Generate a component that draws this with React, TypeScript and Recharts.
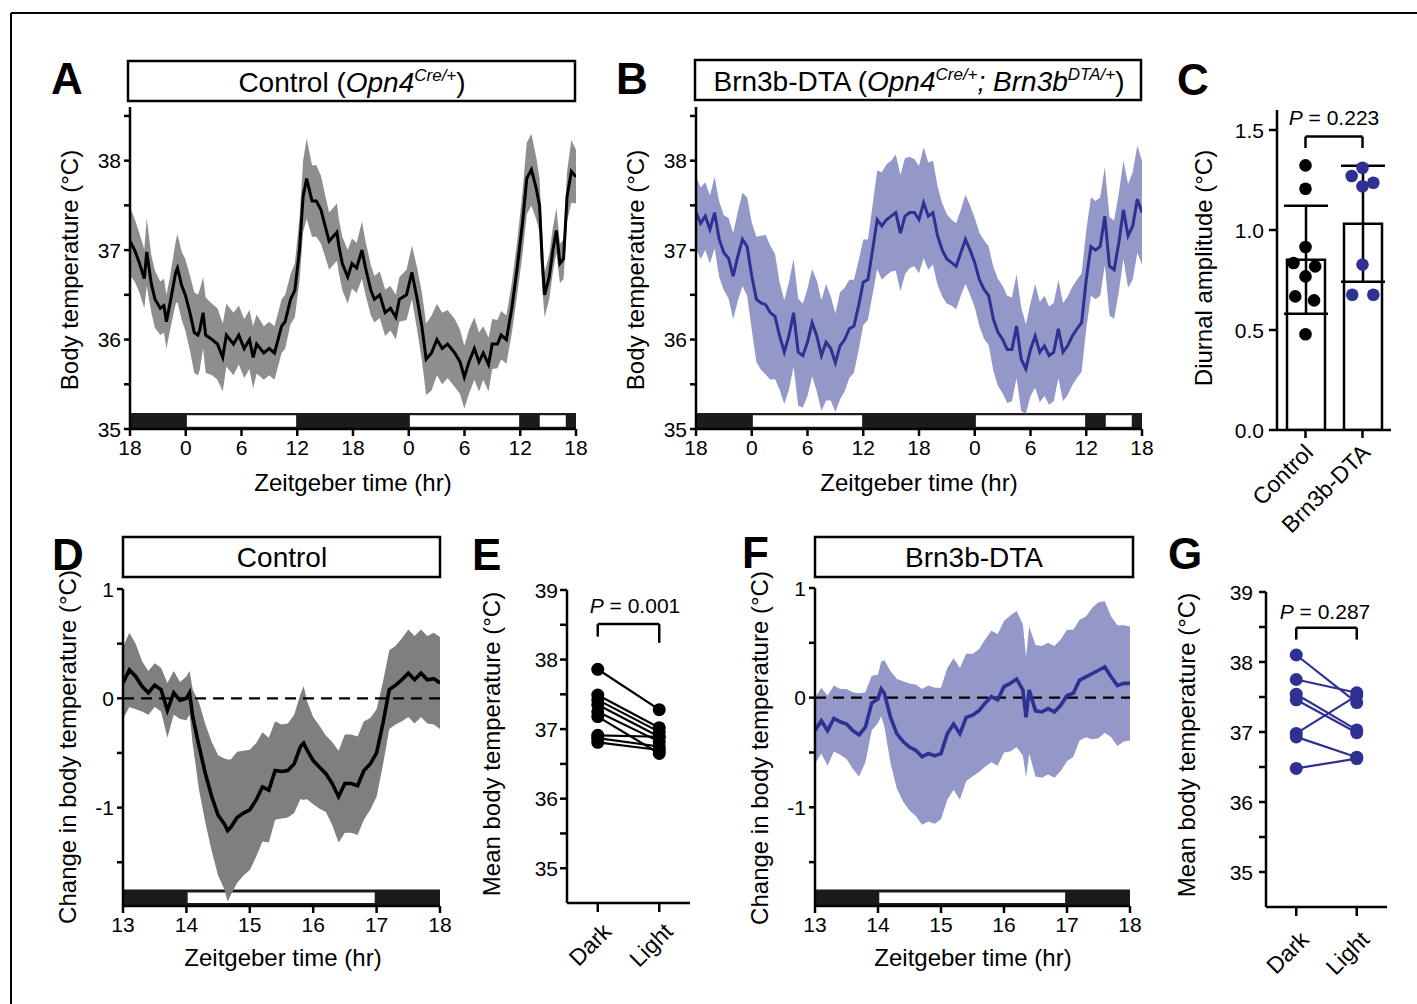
import React from 'react';
import {
  ComposedChart, XAxis, YAxis, Line, Area, Bar, Scatter, ErrorBar,
  ReferenceArea, ReferenceLine,
} from 'recharts';

const FONT = '"Liberation Sans", Arial, Helvetica, sans-serif';

// ---------- Panel A (Control, 48 h) ----------
const aTime = [
  0, 0.5, 1.0, 1.54, 1.8, 2.3, 2.69, 3.26, 3.65, 3.92,
  4.3, 4.92, 5.11, 5.57, 5.95, 6.45, 6.91, 7.3, 7.49, 7.87,
  8.14, 8.83, 9.41, 9.98, 10.37, 11.14, 11.71, 12.29, 12.86, 13.25,
  13.63, 14.4, 14.98, 15.55, 16.32, 16.7, 17.28, 17.74, 18.24, 18.63,
  19.01, 19.59, 20.05, 20.55, 20.93, 21.43, 22.27, 22.47, 22.85, 23.43,
  23.89, 24.39, 24.96, 25.35, 25.92, 26.31, 26.88, 27.46, 28.03, 28.61,
  28.99, 29.76, 30.34, 30.91, 31.41, 31.87, 32.45, 33.03, 33.6, 34.18,
  34.95, 35.52, 35.98, 36.48, 37.06, 37.56, 38.02, 38.59, 38.98, 39.55,
  39.94, 40.51, 41.09, 41.67, 42.24, 42.7, 43.2, 43.7, 44.08, 44.35,
  44.62, 45.12, 45.51, 45.89, 46.27, 46.66, 47.04, 47.5, 48,
];
const aMean = [
  37.10, 37.00, 36.86, 36.68, 36.98, 36.62, 36.45, 36.35, 36.38, 36.20,
  36.40, 36.75, 36.80, 36.60, 36.50, 36.30, 36.08, 36.05, 36.10, 36.30,
  36.05, 36.00, 35.95, 35.80, 36.05, 35.95, 36.05, 35.90, 36.00, 35.80,
  35.95, 35.85, 35.90, 35.85, 36.15, 36.20, 36.45, 36.55, 37.00, 37.60,
  37.80, 37.55, 37.55, 37.45, 37.30, 37.10, 37.20, 37.05, 36.85, 36.70,
  36.85, 36.80, 37.00, 36.80, 36.55, 36.45, 36.50, 36.30, 36.35, 36.25,
  36.45, 36.50, 36.75, 36.45, 36.15, 35.78, 35.85, 36.00, 35.90, 35.95,
  35.85, 35.75, 35.58, 35.75, 35.90, 35.75, 35.85, 35.72, 35.95, 35.95,
  36.05, 36.00, 36.35, 36.80, 37.30, 37.80, 37.90, 37.70, 37.50, 36.90,
  36.50, 36.70, 37.00, 37.22, 36.85, 36.90, 37.60, 37.88, 37.82,
];
const aSem = [
  0.38, 0.35, 0.33, 0.33, 0.38, 0.32, 0.32, 0.30, 0.30, 0.30,
  0.30, 0.35, 0.38, 0.38, 0.40, 0.42, 0.45, 0.45, 0.45, 0.40,
  0.42, 0.40, 0.40, 0.38, 0.35, 0.35, 0.33, 0.33, 0.33, 0.35,
  0.33, 0.30, 0.30, 0.30, 0.30, 0.30, 0.28, 0.30, 0.35, 0.40,
  0.45, 0.40, 0.40, 0.38, 0.35, 0.32, 0.32, 0.30, 0.30, 0.30,
  0.28, 0.28, 0.32, 0.30, 0.28, 0.26, 0.26, 0.26, 0.25, 0.25,
  0.25, 0.28, 0.30, 0.35, 0.38, 0.40, 0.42, 0.40, 0.40, 0.38,
  0.38, 0.36, 0.35, 0.36, 0.35, 0.33, 0.30, 0.30, 0.28, 0.27,
  0.27, 0.27, 0.28, 0.30, 0.35, 0.40, 0.40, 0.35, 0.30, 0.30,
  0.25, 0.25, 0.25, 0.25, 0.22, 0.22, 0.28, 0.35, 0.30,
];

// ---------- Panel B (Brn3b-DTA, 48 h) ----------
const bTime = [
  0, 0.5, 1, 1.5, 2, 2.5, 3, 3.5, 4, 4.5,
  5, 5.5, 6, 6.5, 7, 7.5, 8, 8.5, 9, 9.5,
  10, 10.5, 11, 11.5, 12, 12.5, 13, 13.5, 14, 14.5,
  15, 15.5, 16, 16.5, 17, 17.5, 18, 18.5, 19, 19.5,
  20, 20.5, 21, 21.5, 22, 22.5, 23, 23.5, 24, 24.5,
  25, 25.5, 26, 26.5, 27, 27.5, 28, 28.5, 29, 29.5,
  30, 30.5, 31, 31.5, 32, 32.5, 33, 33.5, 34, 34.5,
  35, 35.5, 36, 36.5, 37, 37.5, 38, 38.5, 39, 39.5,
  40, 40.5, 41, 41.5, 42, 42.5, 43, 43.5, 44, 44.5,
  45, 45.5, 46, 46.5, 47, 47.5, 48,
];
const bMean = [
  37.42, 37.30, 37.38, 37.23, 37.42, 37.12, 36.97, 36.91, 36.71, 36.93,
  37.12, 37.04, 36.71, 36.45, 36.41, 36.39, 36.30, 36.26, 36.04, 35.86,
  36.04, 36.30, 35.86, 35.82, 35.97, 36.19, 36.04, 35.82, 35.97, 35.90,
  35.74, 35.93, 36.00, 36.12, 36.15, 36.38, 36.64, 36.67, 37.00, 37.34,
  37.27, 37.34, 37.38, 37.42, 37.19, 37.38, 37.42, 37.42, 37.34, 37.53,
  37.38, 37.42, 37.16, 37.00, 36.90, 36.86, 36.82, 36.97, 37.12, 37.00,
  36.86, 36.67, 36.56, 36.49, 36.23, 36.08, 36.00, 35.89, 35.89, 36.15,
  35.78, 35.67, 35.89, 36.04, 35.86, 35.93, 35.82, 35.86, 36.12, 35.86,
  35.93, 36.04, 36.12, 36.19, 36.67, 37.04, 37.00, 37.04, 37.38, 36.82,
  36.78, 37.08, 37.45, 37.16, 37.27, 37.57, 37.42,
];
const bSem = [
  0.40, 0.40, 0.38, 0.38, 0.40, 0.42, 0.42, 0.45, 0.48, 0.50,
  0.52, 0.55, 0.60, 0.70, 0.75, 0.78, 0.75, 0.70, 0.60, 0.58,
  0.60, 0.60, 0.60, 0.58, 0.60, 0.60, 0.62, 0.62, 0.65, 0.58,
  0.55, 0.60, 0.58, 0.55, 0.52, 0.50, 0.48, 0.45, 0.50, 0.55,
  0.60, 0.62, 0.62, 0.65, 0.65, 0.65, 0.62, 0.60, 0.60, 0.62,
  0.60, 0.58, 0.55, 0.52, 0.50, 0.48, 0.48, 0.48, 0.50, 0.50,
  0.50, 0.52, 0.55, 0.55, 0.58, 0.60, 0.60, 0.60, 0.58, 0.58,
  0.58, 0.50, 0.52, 0.58, 0.56, 0.56, 0.55, 0.55, 0.55, 0.55,
  0.55, 0.55, 0.55, 0.55, 0.55, 0.55, 0.55, 0.55, 0.55, 0.55,
  0.55, 0.55, 0.55, 0.58, 0.60, 0.60, 0.58,
];
const ztTicks = [0, 6, 12, 18, 24, 30, 36, 42, 48];
const ztTickLabels = ['18', '0', '6', '12', '18', '0', '6', '12', '18'];
const ztLight = [[6.12, 17.88], [30.12, 41.88], [44.1, 46.9]];
const tempTicks = [35, 35.5, 36, 36.5, 37, 37.5, 38, 38.5];

// ---------- Panel C ----------
const cGroups = ['Control', 'Brn3b-DTA'];
const cMeans = [0.851, 1.031];
const cSD = [0.27, 0.29];
const cCtrlX = [0.5, 0.5, 0.5, 0.29, 0.67, 0.5, 0.32, 0.65, 0.5];
const cCtrlY = [1.323, 1.206, 0.915, 0.835, 0.818, 0.768, 0.668, 0.648, 0.479];
const cBrnX = [1.5, 1.31, 1.69, 1.5, 1.5, 1.32, 1.69];
const cBrnY = [1.311, 1.27, 1.236, 1.219, 0.827, 0.676, 0.676];
const ampTicks = [0, 0.5, 1, 1.5];

// ---------- Panel D (Control light pulse) ----------
const dTime = [
  13, 13.1, 13.2, 13.3, 13.4, 13.5, 13.6, 13.7, 13.8, 13.9,
  14, 14.05, 14.1, 14.2, 14.3, 14.4, 14.5, 14.6, 14.65, 14.7,
  14.8, 14.9, 15, 15.1, 15.2, 15.3, 15.4, 15.5, 15.6, 15.7,
  15.8, 15.85, 15.9, 16, 16.1, 16.2, 16.3, 16.4, 16.5, 16.6,
  16.7, 16.8, 16.9, 17, 17.1, 17.2, 17.3, 17.4, 17.5, 17.6,
  17.7, 17.8, 17.9, 18,
];
const dMean = [
  0.14, 0.26, 0.20, 0.11, 0.05, 0.12, 0.08, -0.11, 0.05, -0.02,
  0.00, 0.05, -0.17, -0.44, -0.69, -0.90, -1.07, -1.15, -1.21, -1.18,
  -1.09, -1.05, -1.02, -0.93, -0.81, -0.84, -0.66, -0.67, -0.66, -0.60,
  -0.44, -0.41, -0.47, -0.57, -0.63, -0.69, -0.78, -0.90, -0.78, -0.78,
  -0.80, -0.66, -0.60, -0.50, -0.23, 0.08, 0.12, 0.17, 0.23, 0.17,
  0.23, 0.17, 0.18, 0.14,
];
const dSem = [
  0.33, 0.34, 0.30, 0.23, 0.20, 0.20, 0.20, 0.25, 0.20, 0.17,
  0.20, 0.20, 0.25, 0.40, 0.45, 0.50, 0.55, 0.60, 0.65, 0.62,
  0.60, 0.57, 0.55, 0.52, 0.50, 0.48, 0.45, 0.43, 0.43, 0.45,
  0.48, 0.52, 0.45, 0.40, 0.38, 0.35, 0.38, 0.42, 0.45, 0.45,
  0.45, 0.45, 0.42, 0.40, 0.38, 0.36, 0.36, 0.38, 0.40, 0.40,
  0.40, 0.40, 0.42, 0.42,
];

// ---------- Panel F (Brn3b-DTA light pulse) ----------
const fTime = [
  13, 13.1, 13.2, 13.3, 13.4, 13.5, 13.6, 13.7, 13.8, 13.9,
  14, 14.05, 14.1, 14.2, 14.3, 14.4, 14.5, 14.6, 14.7, 14.8,
  14.9, 15, 15.1, 15.2, 15.3, 15.4, 15.5, 15.6, 15.7, 15.8,
  15.9, 16, 16.1, 16.2, 16.3, 16.35, 16.4, 16.5, 16.6, 16.7,
  16.8, 16.9, 17, 17.1, 17.2, 17.3, 17.4, 17.5, 17.6, 17.7,
  17.8, 17.9, 18,
];
const fMean = [
  -0.30, -0.21, -0.30, -0.19, -0.22, -0.24, -0.30, -0.34, -0.27, -0.05,
  -0.01, 0.08, 0.04, -0.18, -0.33, -0.40, -0.45, -0.48, -0.54, -0.51,
  -0.53, -0.51, -0.33, -0.24, -0.33, -0.18, -0.16, -0.12, -0.05, 0.01,
  -0.02, 0.10, 0.13, 0.17, 0.07, -0.18, 0.07, -0.12, -0.13, -0.10,
  -0.13, -0.07, 0.02, 0.04, 0.16, 0.19, 0.22, 0.25, 0.28, 0.19,
  0.11, 0.13, 0.13,
];
const fSem = [
  0.30, 0.30, 0.32, 0.30, 0.30, 0.32, 0.35, 0.38, 0.32, 0.25,
  0.22, 0.25, 0.30, 0.42, 0.50, 0.55, 0.58, 0.60, 0.62, 0.62,
  0.62, 0.60, 0.60, 0.60, 0.60, 0.58, 0.56, 0.56, 0.58, 0.60,
  0.60, 0.60, 0.62, 0.62, 0.60, 0.55, 0.58, 0.60, 0.60, 0.60,
  0.60, 0.60, 0.60, 0.58, 0.55, 0.55, 0.60, 0.62, 0.60, 0.55,
  0.55, 0.53, 0.52,
];
const pulseTicks = [13, 14, 15, 16, 17, 18];
const pulseLight = [[14.02, 16.97]];
const changeTicks = [-1.5, -1, -0.5, 0, 0.5, 1];

// ---------- Panels E and G ----------
const pairCats = ['Dark', 'Light'];
const eDark = [37.86, 37.49, 37.42, 37.35, 37.25, 37.18, 36.91, 36.87, 36.81];
const eLight = [37.28, 37.02, 36.96, 36.89, 36.82, 36.65, 36.89, 36.75, 36.70];
const gDark = [38.10, 37.75, 37.54, 37.46, 36.98, 36.93, 36.48];
const gLight = [37.42, 37.56, 37.03, 36.99, 37.52, 36.64, 36.62];
const meanTicks = [35, 35.5, 36, 36.5, 37, 37.5, 38, 38.5, 39];

const BLUE = '#2e3192';
const BLUE_BAND = '#9398c8';
const LD_BLACK = '#1c1a1b';
const AX = { stroke: '#000', strokeWidth: 2.5 };
const TICK_FS = 21;
const intFmt = (v: number) => (Number.isInteger(v) ? String(v) : '');
const ztFmt = (v: number) => ztTickLabels[ztTicks.indexOf(v)] ?? '';
const numFmt = (v: number) => String(v);
const ampFmt = (v: number) => v.toFixed(1);

const xTick = (fmt: (v: number) => string) => (props: any) => {
  const { x, y, payload } = props;
  const s = fmt(payload.value);
  return (
    <text x={x} y={y} dy="0.74em" textAnchor="middle" fontSize={TICK_FS} fill="#000">{s}</text>
  );
};
const yTick = (fmt: (v: number) => string) => (props: any) => {
  const { x, y, payload } = props;
  const s = fmt(payload.value);
  return (
    <text x={x} y={y} dy="0.36em" textAnchor="end" fontSize={TICK_FS} fill="#000">{s}</text>
  );
};
const rotTick = (dx: number, dy: number) => (props: any) => {
  const { x, y, payload } = props;
  return (
    <text transform={`translate(${x + dx},${y + dy}) rotate(-45)`} textAnchor="end" fontSize={23} fill="#000">
      {payload.value}
    </text>
  );
};

function buildSeries(time: number[], mean: number[], sem: number[]) {
  const n = Math.min(time.length, mean.length, sem.length);
  const out: any[] = [];
  for (let i = 0; i < n; i++) {
    out.push({
      t: time[i],
      m: mean[i],
      r: [+(mean[i] - sem[i]).toFixed(3), +(mean[i] + sem[i]).toFixed(3)],
    });
  }
  return out;
}

function DayChart(props: any) {
  const { left, top, time, mean, sem, band, line } = props;
  const data = buildSeries(time, mean, sem);
  return (
    <div style={{ position: 'absolute', left, top }}>
      <ComposedChart width={570} height={380} data={data} margin={{ top: 22, right: 24, bottom: 0, left: 0 }}>
        <XAxis
          dataKey="t" type="number" domain={[0, 48]} ticks={ztTicks} interval={0}
          height={36} axisLine={AX} tickLine={AX} tickSize={7} tickMargin={3} tick={xTick(ztFmt)} allowDataOverflow
        />
        <YAxis
          type="number" domain={[35, 38.6]} ticks={tempTicks} interval={0}
          width={100} axisLine={AX} tickLine={AX} tickSize={6} tickMargin={3} tick={yTick(intFmt)} allowDataOverflow
        />
        <ReferenceArea x1={0} x2={48} y1={35} y2={35.18} fill={LD_BLACK} fillOpacity={1} stroke="none" ifOverflow="visible" />
        {ztLight.map(([a, b], i) => (
          <ReferenceArea key={i} x1={a} x2={b} y1={35.025} y2={35.155} fill="#fff" fillOpacity={1} stroke="none" ifOverflow="visible" />
        ))}
        <Area dataKey="r" type="linear" fill={band} fillOpacity={1} stroke="none" isAnimationActive={false} activeDot={false} />
        <Line dataKey="m" type="linear" stroke={line} strokeWidth={3} dot={false} isAnimationActive={false} activeDot={false} />
      </ComposedChart>
    </div>
  );
}

function PulseChart(props: any) {
  const { left, top, width, height, time, mean, sem, band, line } = props;
  const data = buildSeries(time, mean, sem);
  return (
    <div style={{ position: 'absolute', left, top }}>
      <ComposedChart width={width} height={height} data={data} margin={{ top: 20, right: 20, bottom: 0, left: 0 }}>
        <XAxis
          dataKey="t" type="number" domain={[13, 18]} ticks={pulseTicks} interval={0}
          height={36} axisLine={AX} tickLine={AX} tickSize={7} tickMargin={3} tick={xTick(numFmt)} allowDataOverflow
        />
        <YAxis
          type="number" domain={[-1.9, 1]} ticks={changeTicks} interval={0}
          width={100} axisLine={AX} tickLine={AX} tickSize={6} tickMargin={3} tick={yTick(intFmt)} allowDataOverflow
        />
        <ReferenceArea x1={13} x2={18} y1={-1.9} y2={-1.75} fill={LD_BLACK} fillOpacity={1} stroke="none" ifOverflow="visible" />
        {pulseLight.map(([a, b], i) => (
          <ReferenceArea key={i} x1={a} x2={b} y1={-1.873} y2={-1.777} fill="#fff" fillOpacity={1} stroke="none" ifOverflow="visible" />
        ))}
        <Area dataKey="r" type="linear" fill={band} fillOpacity={1} stroke="none" isAnimationActive={false} activeDot={false} />
        <ReferenceLine y={0} stroke="#000" strokeWidth={2.2} strokeDasharray="11 7" />
        <Line dataKey="m" type="linear" stroke={line} strokeWidth={3.6} dot={false} isAnimationActive={false} activeDot={false} />
      </ComposedChart>
    </div>
  );
}

function PairChart(props: any) {
  const { left, top, width, height, yWidth, dark, light, color, bracket, tickMargin, labelShift } = props;
  const n = Math.min(dark.length, light.length);
  const rowD: any = { c: pairCats[0] };
  const rowL: any = { c: pairCats[1] };
  for (let i = 0; i < n; i++) {
    rowD['m' + i] = dark[i];
    rowL['m' + i] = light[i];
  }
  const data = [rowD, rowL];
  const [topY, legL, legR] = bracket;
  const bl = { stroke: '#000', strokeWidth: 2.5 };
  return (
    <div style={{ position: 'absolute', left, top }}>
      <ComposedChart width={width} height={height} data={data} margin={{ top: 20, right: 10, bottom: 0, left: 0 }}>
        <XAxis dataKey="c" type="category" scale="band" interval={0} height={90} axisLine={AX} tickLine={AX} tickSize={9} tick={rotTick(labelShift[0], labelShift[1])} />
        <YAxis
          type="number" domain={[34.5, 39]} ticks={meanTicks} interval={0}
          width={yWidth} axisLine={AX} tickLine={AX} tickSize={7} tickMargin={tickMargin} tick={yTick(intFmt)} allowDataOverflow
        />
        <ReferenceLine segment={[{ x: pairCats[0], y: legL }, { x: pairCats[0], y: topY }]} {...bl} />
        <ReferenceLine segment={[{ x: pairCats[0], y: topY }, { x: pairCats[1], y: topY }]} {...bl} />
        <ReferenceLine segment={[{ x: pairCats[1], y: topY }, { x: pairCats[1], y: legR }]} {...bl} />
        {Array.from({ length: n }).map((_, i) => (
          <Line
            key={i} dataKey={'m' + i} type="linear" stroke={color} strokeWidth={2.2}
            dot={{ r: 6.5, fill: color, stroke: color, strokeWidth: 0 }}
            activeDot={false} isAnimationActive={false}
          />
        ))}
      </ComposedChart>
    </div>
  );
}

function AmplitudeChart() {
  const data = cGroups.map((g, i) => ({ g, mean: cMeans[i], sd: cSD[i] }));
  const ctrl = cCtrlX.map((x, i) => ({ x, y: cCtrlY[i] }));
  const brn = cBrnX.map((x, i) => ({ x, y: cBrnY[i] }));
  const bl = { stroke: '#000', strokeWidth: 2.5 };
  const dot = (c: string) => (p: any) => <circle cx={p.cx} cy={p.cy} r={6.3} fill={c} />;
  return (
    <div style={{ position: 'absolute', left: 1180, top: 90 }}>
      <ComposedChart width={230} height={460} data={data} margin={{ top: 20, right: 19, bottom: 0, left: 0 }}>
        <XAxis xAxisId="cat" dataKey="g" type="category" scale="band" interval={0} height={120} axisLine={AX} tickLine={AX} tickSize={8} tick={rotTick(9, 14)} />
        <XAxis xAxisId="num" dataKey="x" type="number" domain={[0, 2]} hide allowDataOverflow />
        <YAxis
          yAxisId="l" type="number" domain={[0, 1.6]} ticks={ampTicks} interval={0}
          width={97} axisLine={AX} tickLine={AX} tickSize={8} tickMargin={5} tick={yTick(ampFmt)} allowDataOverflow
        />
        <YAxis yAxisId="p" dataKey="y" type="number" domain={[0, 1.6]} hide allowDataOverflow />
        <Bar xAxisId="cat" yAxisId="l" dataKey="mean" barSize={38} fill="#fff" stroke="#000" strokeWidth={2.5} isAnimationActive={false}>
          <ErrorBar dataKey="sd" width={22} stroke="#000" strokeWidth={2.5} direction="y" />
        </Bar>
        <ReferenceLine xAxisId="num" yAxisId="l" segment={[{ x: 0.5, y: 1.41 }, { x: 0.5, y: 1.467 }]} {...bl} />
        <ReferenceLine xAxisId="num" yAxisId="l" segment={[{ x: 0.5, y: 1.467 }, { x: 1.5, y: 1.467 }]} {...bl} />
        <ReferenceLine xAxisId="num" yAxisId="l" segment={[{ x: 1.5, y: 1.467 }, { x: 1.5, y: 1.41 }]} {...bl} />
        <Scatter xAxisId="num" yAxisId="p" data={ctrl} dataKey="y" shape={dot('#000')} isAnimationActive={false} />
        <Scatter xAxisId="num" yAxisId="p" data={brn} dataKey="y" shape={dot(BLUE)} isAnimationActive={false} />
      </ComposedChart>
    </div>
  );
}

function Overlay() {
  const letter = { fontSize: 44, fontWeight: 700, fill: '#000' } as any;
  const yTitle = (x: number, y: number, s: string) => (
    <text transform={`translate(${x},${y}) rotate(-90)`} textAnchor="middle" fontSize={24} fill="#000">{s}</text>
  );
  const xTitle = (x: number, y: number, s: string) => (
    <text x={x} y={y} textAnchor="middle" fontSize={24} fill="#000">{s}</text>
  );
  const pText = (x: number, y: number, v: string) => (
    <text x={x} y={y} textAnchor="middle" fontSize={21} fill="#000">
      <tspan fontStyle="italic">P</tspan> = {v}
    </text>
  );
  const box = { fill: '#fff', stroke: '#000', strokeWidth: 2.5 };
  return (
    <svg width={1417} height={1004} style={{ position: 'absolute', left: 0, top: 0, pointerEvents: 'none' }}>
      <line x1={11} y1={13} x2={1417} y2={13} stroke="#000" strokeWidth={2} />
      <line x1={11} y1={13} x2={11} y2={1004} stroke="#000" strokeWidth={2} />

      <text x={51} y={94} {...letter}>A</text>
      <text x={616} y={94} {...letter}>B</text>
      <text x={1177} y={95} {...letter}>C</text>
      <text x={52} y={570} {...letter}>D</text>
      <text x={472} y={570} {...letter}>E</text>
      <text x={742} y={568} {...letter}>F</text>
      <text x={1168} y={569} {...letter}>G</text>

      <rect x={128} y={61} width={447} height={40} {...box} />
      <text x={352} y={92} textAnchor="middle" fontSize={28} fill="#000">
        Control (<tspan fontStyle="italic">Opn4</tspan>
        <tspan fontStyle="italic" fontSize={17} dy={-11}>Cre/+</tspan>
        <tspan dy={11}>)</tspan>
      </text>
      <rect x={695} y={60} width={446} height={40} {...box} />
      <text x={919} y={91} textAnchor="middle" fontSize={28} fill="#000">
        Brn3b-DTA (<tspan fontStyle="italic">Opn4</tspan>
        <tspan fontStyle="italic" fontSize={17} dy={-11}>Cre/+</tspan>
        <tspan fontStyle="italic" dy={11}>; Brn3b</tspan>
        <tspan fontStyle="italic" fontSize={17} dy={-11}>DTA/+</tspan>
        <tspan dy={11}>)</tspan>
      </text>
      <rect x={123} y={537} width={317} height={40} {...box} />
      <text x={282} y={567} textAnchor="middle" fontSize={28} fill="#000">Control</text>
      <rect x={815} y={537} width={318} height={40} {...box} />
      <text x={974} y={567} textAnchor="middle" fontSize={28} fill="#000">Brn3b-DTA</text>

      {yTitle(78, 270, 'Body temperature (°C)')}
      {yTitle(644, 270, 'Body temperature (°C)')}
      {yTitle(1212, 268, 'Diurnal amplitude (°C)')}
      {yTitle(76, 747, 'Change in body temperature (°C)')}
      {yTitle(500, 744, 'Mean body temperature (°C)')}
      {yTitle(768, 748, 'Change in body temperature (°C)')}
      {yTitle(1195, 745, 'Mean body temperature (°C)')}

      {xTitle(353, 491, 'Zeitgeber time (hr)')}
      {xTitle(919, 491, 'Zeitgeber time (hr)')}
      {xTitle(283, 966, 'Zeitgeber time (hr)')}
      {xTitle(973, 966, 'Zeitgeber time (hr)')}

      {pText(1334, 125, '0.223')}
      {pText(635, 613, '0.001')}
      {pText(1325, 619, '0.287')}
    </svg>
  );
}

export default function App() {
  return (
    <div style={{ position: 'absolute', left: 0, top: 0, width: 1417, height: 1004, background: '#fff', fontFamily: FONT, overflow: 'hidden' }}>
      <DayChart left={30} top={85} time={aTime} mean={aMean} sem={aSem} band="#8e8e8e" line="#000" />
      <DayChart left={596} top={85} time={bTime} mean={bMean} sem={bSem} band={BLUE_BAND} line={BLUE} />
      <AmplitudeChart />
      <PulseChart left={23} top={569} width={437} height={373} time={dTime} mean={dMean} sem={dSem} band="#7f7f7f" line="#000" />
      <PairChart left={470} top={570} width={230} height={423} yWidth={97} dark={eDark} light={eLight} color="#000" bracket={[38.51, 38.33, 38.24]} tickMargin={2} labelShift={[15, 19]} />
      <PulseChart left={715} top={568} width={435} height={374} time={fTime} mean={fMean} sem={fSem} band={BLUE_BAND} line={BLUE} />
      <PairChart left={1170} top={572} width={227} height={425} yWidth={96} dark={gDark} light={gLight} color={BLUE} bracket={[38.49, 38.32, 38.32]} tickMargin={6} labelShift={[14, 23]} />
      <Overlay />
    </div>
  );
}
